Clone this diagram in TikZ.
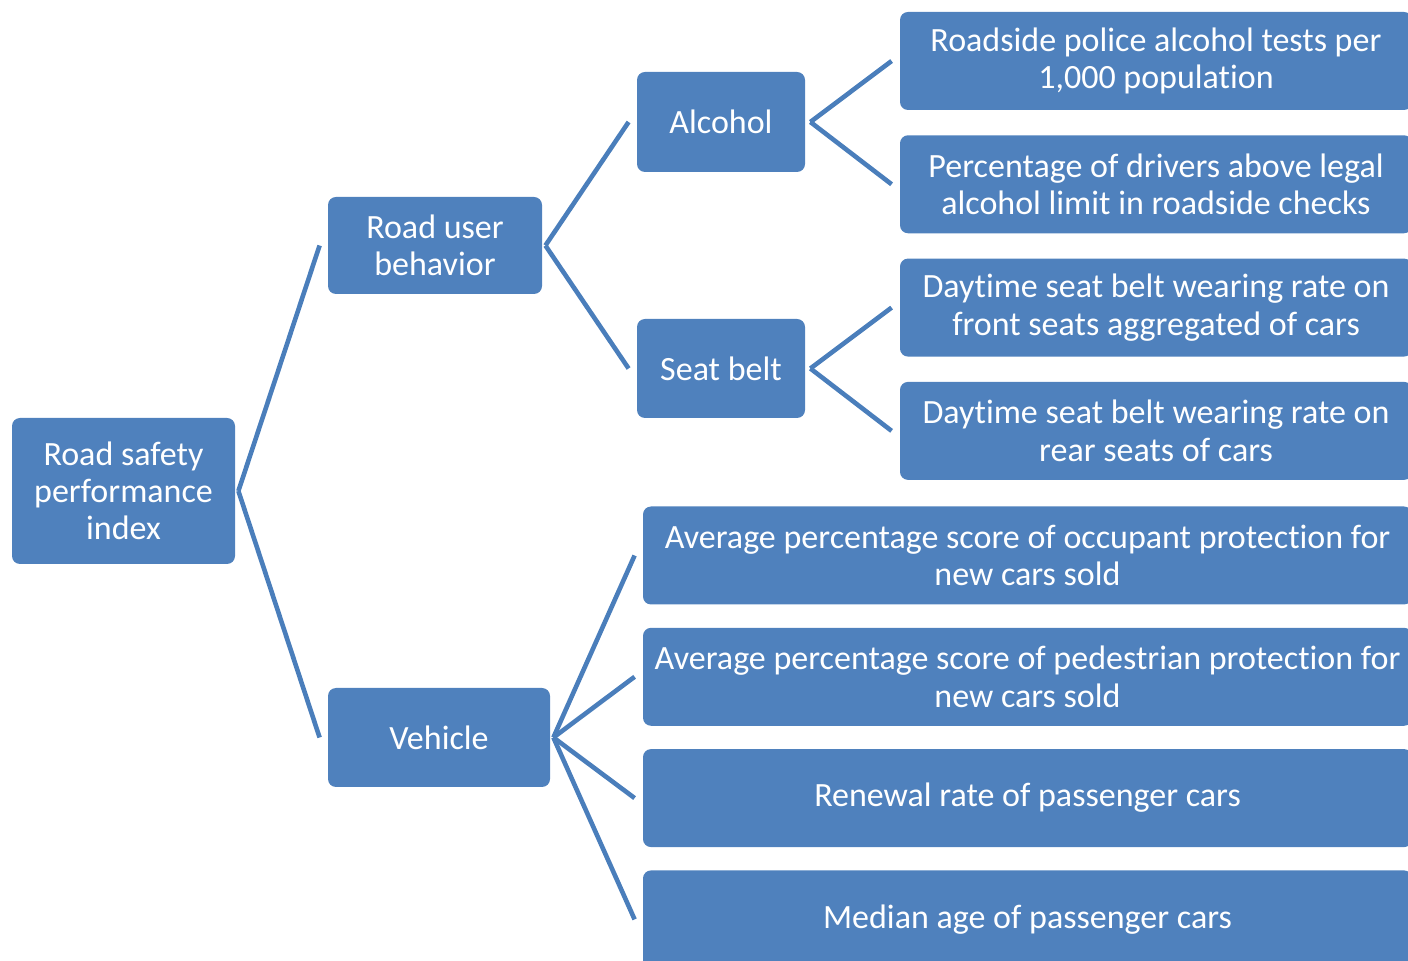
\documentclass[tikz,border=0pt]{standalone}
\usepackage{fontspec}
\setmainfont{Carlito}[Ligatures=NoCommon]
\usetikzlibrary{positioning}
\definecolor{boxblue}{HTML}{4F81BD}
\definecolor{linkblue}{HTML}{4A7EBB}

\begin{document}
\begin{tikzpicture}[x=0.5pt, y=-0.5pt, node distance=12.25pt,
    every node/.style={fill=boxblue, text=white, rounded corners=4pt, align=center, inner sep=0pt,
        font=\fontsize{17}{18.6}\selectfont},
    link/.style={draw=linkblue, line width=2.3pt}]
        \useasboundingbox (0,0) rectangle (1408,961);
        \clip (0,0) rectangle (1408,961);

        % tree of boxes
        \node (root) [minimum width=111.5pt, minimum height=73pt] at (123.5,491) {Road safety\\performance\\index};
        \node (rub) [minimum width=107pt, minimum height=48.5pt] at (435,245.5) {Road user\\behavior};
        \node (veh) [minimum width=111pt, minimum height=49.5pt] at (439,737.5) {Vehicle};
        \node (alc) [minimum width=84pt, minimum height=50pt] at (721,122) {Alcohol};
        \node (belt) [minimum width=84pt, minimum height=49.5pt] at (721,368.5) {Seat belt};

        \node (a1) [minimum width=256pt, minimum height=49pt] at (1156,61) {Roadside police alcohol tests per\\1,000 population};
        \node (a2) [minimum width=256pt, minimum height=49pt, below=of a1] {Percentage of drivers above legal\\alcohol limit in roadside checks};
        \node (s1) [minimum width=256pt, minimum height=49pt, below=of a2] {Daytime seat belt wearing rate on\\front seats aggregated of cars};
        \node (s2) [minimum width=256pt, minimum height=49pt, below=of s1] {Daytime seat belt wearing rate on\\rear seats of cars};

        \node (v1) [minimum width=384.5pt, minimum height=49pt] at (1027.5,555.5) {Average percentage score of occupant protection for\\new cars sold};
        \node (v2) [minimum width=384.5pt, minimum height=49pt, below=11.25pt of v1] {Average percentage score of pedestrian protection for\\new cars sold};
        \node (v3) [minimum width=384.5pt, minimum height=49pt, below=11.25pt of v2] {Renewal rate of passenger cars};
        \node (v4) [minimum width=384.5pt, minimum height=49pt, below=11.25pt of v3] {Median age of passenger cars};

        % connectors
        \draw[link] ([xshift=1.5pt]root.east) -- ([xshift=-4pt]rub.west);
        \draw[link] ([xshift=1.5pt]root.east) -- ([xshift=-4pt]veh.west);
        \draw[link] ([xshift=1.5pt]rub.east) -- ([xshift=-4pt]alc.west);
        \draw[link] ([xshift=1.5pt]rub.east) -- ([xshift=-4pt]belt.west);
        \draw[link] ([xshift=2.5pt]alc.east) -- ([xshift=-4pt]a1.west);
        \draw[link] ([xshift=2.5pt]alc.east) -- ([xshift=-4pt]a2.west);
        \draw[link] ([xshift=2.5pt]belt.east) -- ([xshift=-4pt]s1.west);
        \draw[link] ([xshift=2.5pt]belt.east) -- ([xshift=-4pt]s2.west);
        \draw[link] ([xshift=1.5pt]veh.east) -- ([xshift=-4pt]v1.west);
        \draw[link] ([xshift=1.5pt]veh.east) -- ([xshift=-4pt]v2.west);
        \draw[link] ([xshift=1.5pt]veh.east) -- ([xshift=-4pt]v3.west);
        \draw[link] ([xshift=1.5pt]veh.east) -- ([xshift=-4pt]v4.west);
    \end{tikzpicture}
\end{document}
